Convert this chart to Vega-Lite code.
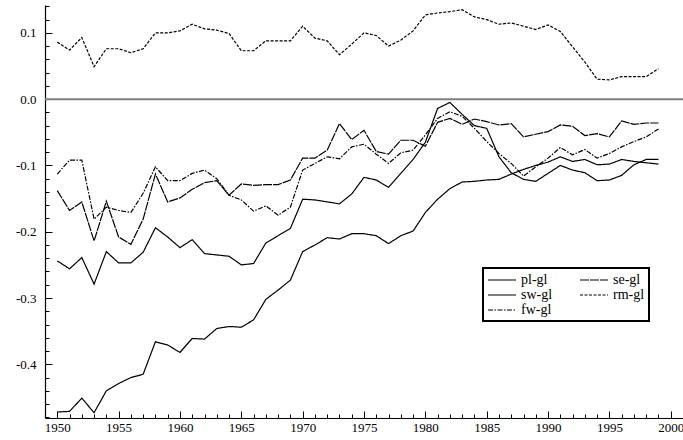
{
"$schema": "https://vega.github.io/schema/vega-lite/v6.json",
"width": 638, "height": 413,
"autosize": "none",
"padding": {"left": 45, "top": 5, "right": 0, "bottom": 22},
"config": {"view": {"stroke": null}, "font": "Liberation Serif"},
"datasets": {
"zero": [{"v": 0}],
"series": [
{"year":1950,"s":"pl-gl","v":-0.472},{"year":1951,"s":"pl-gl","v":-0.471},{"year":1952,"s":"pl-gl","v":-0.451},{"year":1953,"s":"pl-gl","v":-0.473},{"year":1954,"s":"pl-gl","v":-0.440},{"year":1955,"s":"pl-gl","v":-0.429},{"year":1956,"s":"pl-gl","v":-0.420},{"year":1957,"s":"pl-gl","v":-0.415},{"year":1958,"s":"pl-gl","v":-0.366},{"year":1959,"s":"pl-gl","v":-0.371},
{"year":1960,"s":"pl-gl","v":-0.382},{"year":1961,"s":"pl-gl","v":-0.361},{"year":1962,"s":"pl-gl","v":-0.362},{"year":1963,"s":"pl-gl","v":-0.346},{"year":1964,"s":"pl-gl","v":-0.343},{"year":1965,"s":"pl-gl","v":-0.344},{"year":1966,"s":"pl-gl","v":-0.333},{"year":1967,"s":"pl-gl","v":-0.302},{"year":1968,"s":"pl-gl","v":-0.288},{"year":1969,"s":"pl-gl","v":-0.273},
{"year":1970,"s":"pl-gl","v":-0.230},{"year":1971,"s":"pl-gl","v":-0.220},{"year":1972,"s":"pl-gl","v":-0.209},{"year":1973,"s":"pl-gl","v":-0.211},{"year":1974,"s":"pl-gl","v":-0.203},{"year":1975,"s":"pl-gl","v":-0.203},{"year":1976,"s":"pl-gl","v":-0.206},{"year":1977,"s":"pl-gl","v":-0.218},{"year":1978,"s":"pl-gl","v":-0.206},{"year":1979,"s":"pl-gl","v":-0.199},
{"year":1980,"s":"pl-gl","v":-0.171},{"year":1981,"s":"pl-gl","v":-0.151},{"year":1982,"s":"pl-gl","v":-0.135},{"year":1983,"s":"pl-gl","v":-0.125},{"year":1984,"s":"pl-gl","v":-0.124},{"year":1985,"s":"pl-gl","v":-0.122},{"year":1986,"s":"pl-gl","v":-0.121},{"year":1987,"s":"pl-gl","v":-0.113},{"year":1988,"s":"pl-gl","v":-0.106},{"year":1989,"s":"pl-gl","v":-0.100},
{"year":1990,"s":"pl-gl","v":-0.095},{"year":1991,"s":"pl-gl","v":-0.087},{"year":1992,"s":"pl-gl","v":-0.094},{"year":1993,"s":"pl-gl","v":-0.091},{"year":1994,"s":"pl-gl","v":-0.099},{"year":1995,"s":"pl-gl","v":-0.098},{"year":1996,"s":"pl-gl","v":-0.091},{"year":1997,"s":"pl-gl","v":-0.094},{"year":1998,"s":"pl-gl","v":-0.096},{"year":1999,"s":"pl-gl","v":-0.098},

{"year":1950,"s":"se-gl","v":-0.138},{"year":1951,"s":"se-gl","v":-0.168},{"year":1952,"s":"se-gl","v":-0.155},{"year":1953,"s":"se-gl","v":-0.214},{"year":1954,"s":"se-gl","v":-0.154},{"year":1955,"s":"se-gl","v":-0.208},{"year":1956,"s":"se-gl","v":-0.219},{"year":1957,"s":"se-gl","v":-0.181},{"year":1958,"s":"se-gl","v":-0.113},{"year":1959,"s":"se-gl","v":-0.155},
{"year":1960,"s":"se-gl","v":-0.149},{"year":1961,"s":"se-gl","v":-0.136},{"year":1962,"s":"se-gl","v":-0.126},{"year":1963,"s":"se-gl","v":-0.123},{"year":1964,"s":"se-gl","v":-0.145},{"year":1965,"s":"se-gl","v":-0.128},{"year":1966,"s":"se-gl","v":-0.130},{"year":1967,"s":"se-gl","v":-0.129},{"year":1968,"s":"se-gl","v":-0.129},{"year":1969,"s":"se-gl","v":-0.122},
{"year":1970,"s":"se-gl","v":-0.089},{"year":1971,"s":"se-gl","v":-0.089},{"year":1972,"s":"se-gl","v":-0.077},{"year":1973,"s":"se-gl","v":-0.037},{"year":1974,"s":"se-gl","v":-0.061},{"year":1975,"s":"se-gl","v":-0.047},{"year":1976,"s":"se-gl","v":-0.079},{"year":1977,"s":"se-gl","v":-0.083},{"year":1978,"s":"se-gl","v":-0.062},{"year":1979,"s":"se-gl","v":-0.062},
{"year":1980,"s":"se-gl","v":-0.071},{"year":1981,"s":"se-gl","v":-0.035},{"year":1982,"s":"se-gl","v":-0.029},{"year":1983,"s":"se-gl","v":-0.038},{"year":1984,"s":"se-gl","v":-0.030},{"year":1985,"s":"se-gl","v":-0.034},{"year":1986,"s":"se-gl","v":-0.039},{"year":1987,"s":"se-gl","v":-0.037},{"year":1988,"s":"se-gl","v":-0.057},{"year":1989,"s":"se-gl","v":-0.053},
{"year":1990,"s":"se-gl","v":-0.049},{"year":1991,"s":"se-gl","v":-0.039},{"year":1992,"s":"se-gl","v":-0.041},{"year":1993,"s":"se-gl","v":-0.055},{"year":1994,"s":"se-gl","v":-0.052},{"year":1995,"s":"se-gl","v":-0.057},{"year":1996,"s":"se-gl","v":-0.033},{"year":1997,"s":"se-gl","v":-0.038},{"year":1998,"s":"se-gl","v":-0.036},{"year":1999,"s":"se-gl","v":-0.036},

{"year":1950,"s":"sw-gl","v":-0.244},{"year":1951,"s":"sw-gl","v":-0.256},{"year":1952,"s":"sw-gl","v":-0.239},{"year":1953,"s":"sw-gl","v":-0.279},{"year":1954,"s":"sw-gl","v":-0.230},{"year":1955,"s":"sw-gl","v":-0.247},{"year":1956,"s":"sw-gl","v":-0.247},{"year":1957,"s":"sw-gl","v":-0.231},{"year":1958,"s":"sw-gl","v":-0.194},{"year":1959,"s":"sw-gl","v":-0.208},
{"year":1960,"s":"sw-gl","v":-0.224},{"year":1961,"s":"sw-gl","v":-0.212},{"year":1962,"s":"sw-gl","v":-0.233},{"year":1963,"s":"sw-gl","v":-0.235},{"year":1964,"s":"sw-gl","v":-0.237},{"year":1965,"s":"sw-gl","v":-0.250},{"year":1966,"s":"sw-gl","v":-0.248},{"year":1967,"s":"sw-gl","v":-0.217},{"year":1968,"s":"sw-gl","v":-0.206},{"year":1969,"s":"sw-gl","v":-0.195},
{"year":1970,"s":"sw-gl","v":-0.151},{"year":1971,"s":"sw-gl","v":-0.152},{"year":1972,"s":"sw-gl","v":-0.155},{"year":1973,"s":"sw-gl","v":-0.158},{"year":1974,"s":"sw-gl","v":-0.143},{"year":1975,"s":"sw-gl","v":-0.118},{"year":1976,"s":"sw-gl","v":-0.122},{"year":1977,"s":"sw-gl","v":-0.133},{"year":1978,"s":"sw-gl","v":-0.112},{"year":1979,"s":"sw-gl","v":-0.091},
{"year":1980,"s":"sw-gl","v":-0.065},{"year":1981,"s":"sw-gl","v":-0.014},{"year":1982,"s":"sw-gl","v":-0.005},{"year":1983,"s":"sw-gl","v":-0.023},{"year":1984,"s":"sw-gl","v":-0.040},{"year":1985,"s":"sw-gl","v":-0.044},{"year":1986,"s":"sw-gl","v":-0.087},{"year":1987,"s":"sw-gl","v":-0.111},{"year":1988,"s":"sw-gl","v":-0.121},{"year":1989,"s":"sw-gl","v":-0.124},
{"year":1990,"s":"sw-gl","v":-0.112},{"year":1991,"s":"sw-gl","v":-0.100},{"year":1992,"s":"sw-gl","v":-0.107},{"year":1993,"s":"sw-gl","v":-0.111},{"year":1994,"s":"sw-gl","v":-0.123},{"year":1995,"s":"sw-gl","v":-0.122},{"year":1996,"s":"sw-gl","v":-0.115},{"year":1997,"s":"sw-gl","v":-0.099},{"year":1998,"s":"sw-gl","v":-0.091},{"year":1999,"s":"sw-gl","v":-0.091},

{"year":1950,"s":"rm-gl","v":0.086},{"year":1951,"s":"rm-gl","v":0.074},{"year":1952,"s":"rm-gl","v":0.093},{"year":1953,"s":"rm-gl","v":0.049},{"year":1954,"s":"rm-gl","v":0.076},{"year":1955,"s":"rm-gl","v":0.076},{"year":1956,"s":"rm-gl","v":0.070},{"year":1957,"s":"rm-gl","v":0.076},{"year":1958,"s":"rm-gl","v":0.100},{"year":1959,"s":"rm-gl","v":0.100},
{"year":1960,"s":"rm-gl","v":0.103},{"year":1961,"s":"rm-gl","v":0.113},{"year":1962,"s":"rm-gl","v":0.106},{"year":1963,"s":"rm-gl","v":0.104},{"year":1964,"s":"rm-gl","v":0.099},{"year":1965,"s":"rm-gl","v":0.073},{"year":1966,"s":"rm-gl","v":0.073},{"year":1967,"s":"rm-gl","v":0.088},{"year":1968,"s":"rm-gl","v":0.088},{"year":1969,"s":"rm-gl","v":0.088},
{"year":1970,"s":"rm-gl","v":0.110},{"year":1971,"s":"rm-gl","v":0.092},{"year":1972,"s":"rm-gl","v":0.088},{"year":1973,"s":"rm-gl","v":0.067},{"year":1974,"s":"rm-gl","v":0.083},{"year":1975,"s":"rm-gl","v":0.100},{"year":1976,"s":"rm-gl","v":0.096},{"year":1977,"s":"rm-gl","v":0.080},{"year":1978,"s":"rm-gl","v":0.089},{"year":1979,"s":"rm-gl","v":0.103},
{"year":1980,"s":"rm-gl","v":0.127},{"year":1981,"s":"rm-gl","v":0.130},{"year":1982,"s":"rm-gl","v":0.132},{"year":1983,"s":"rm-gl","v":0.135},{"year":1984,"s":"rm-gl","v":0.124},{"year":1985,"s":"rm-gl","v":0.120},{"year":1986,"s":"rm-gl","v":0.113},{"year":1987,"s":"rm-gl","v":0.115},{"year":1988,"s":"rm-gl","v":0.110},{"year":1989,"s":"rm-gl","v":0.105},
{"year":1990,"s":"rm-gl","v":0.112},{"year":1991,"s":"rm-gl","v":0.102},{"year":1992,"s":"rm-gl","v":0.079},{"year":1993,"s":"rm-gl","v":0.056},{"year":1994,"s":"rm-gl","v":0.030},{"year":1995,"s":"rm-gl","v":0.029},{"year":1996,"s":"rm-gl","v":0.034},{"year":1997,"s":"rm-gl","v":0.034},{"year":1998,"s":"rm-gl","v":0.034},{"year":1999,"s":"rm-gl","v":0.046},

{"year":1950,"s":"fw-gl","v":-0.113},{"year":1951,"s":"fw-gl","v":-0.092},{"year":1952,"s":"fw-gl","v":-0.092},{"year":1953,"s":"fw-gl","v":-0.181},{"year":1954,"s":"fw-gl","v":-0.163},{"year":1955,"s":"fw-gl","v":-0.168},{"year":1956,"s":"fw-gl","v":-0.171},{"year":1957,"s":"fw-gl","v":-0.142},{"year":1958,"s":"fw-gl","v":-0.102},{"year":1959,"s":"fw-gl","v":-0.123},
{"year":1960,"s":"fw-gl","v":-0.123},{"year":1961,"s":"fw-gl","v":-0.112},{"year":1962,"s":"fw-gl","v":-0.107},{"year":1963,"s":"fw-gl","v":-0.120},{"year":1964,"s":"fw-gl","v":-0.145},{"year":1965,"s":"fw-gl","v":-0.152},{"year":1966,"s":"fw-gl","v":-0.169},{"year":1967,"s":"fw-gl","v":-0.161},{"year":1968,"s":"fw-gl","v":-0.175},{"year":1969,"s":"fw-gl","v":-0.163},
{"year":1970,"s":"fw-gl","v":-0.107},{"year":1971,"s":"fw-gl","v":-0.097},{"year":1972,"s":"fw-gl","v":-0.087},{"year":1973,"s":"fw-gl","v":-0.090},{"year":1974,"s":"fw-gl","v":-0.072},{"year":1975,"s":"fw-gl","v":-0.068},{"year":1976,"s":"fw-gl","v":-0.083},{"year":1977,"s":"fw-gl","v":-0.097},{"year":1978,"s":"fw-gl","v":-0.081},{"year":1979,"s":"fw-gl","v":-0.077},
{"year":1980,"s":"fw-gl","v":-0.054},{"year":1981,"s":"fw-gl","v":-0.029},{"year":1982,"s":"fw-gl","v":-0.019},{"year":1983,"s":"fw-gl","v":-0.026},{"year":1984,"s":"fw-gl","v":-0.044},{"year":1985,"s":"fw-gl","v":-0.064},{"year":1986,"s":"fw-gl","v":-0.082},{"year":1987,"s":"fw-gl","v":-0.097},{"year":1988,"s":"fw-gl","v":-0.116},{"year":1989,"s":"fw-gl","v":-0.102},
{"year":1990,"s":"fw-gl","v":-0.089},{"year":1991,"s":"fw-gl","v":-0.073},{"year":1992,"s":"fw-gl","v":-0.084},{"year":1993,"s":"fw-gl","v":-0.076},{"year":1994,"s":"fw-gl","v":-0.089},{"year":1995,"s":"fw-gl","v":-0.082},{"year":1996,"s":"fw-gl","v":-0.072},{"year":1997,"s":"fw-gl","v":-0.064},{"year":1998,"s":"fw-gl","v":-0.057},{"year":1999,"s":"fw-gl","v":-0.045}
]
},
"layer": [
{
"data": {"name": "series"},
"mark": {"type": "line", "color": "black", "strokeWidth": 1.2},
"encoding": {
"x": {"field": "year", "type": "quantitative",
"scale": {"domain": [1949, 2001], "nice": false, "zero": false},
"axis": {"title": null, "grid": false,
"values": [1950,1951,1952,1953,1954,1955,1956,1957,1958,1959,1960,1961,1962,1963,1964,1965,1966,1967,1968,1969,1970,1971,1972,1973,1974,1975,1976,1977,1978,1979,1980,1981,1982,1983,1984,1985,1986,1987,1988,1989,1990,1991,1992,1993,1994,1995,1996,1997,1998,1999,2000],
"labelExpr": "datum.value % 5 == 0 ? format(datum.value, 'd') : ''",
"tickSize": {"condition": {"test": "datum.value % 5 == 0", "value": -7}, "value": -4},
"labelOverlap": false, "labelFlush": false, "labelPadding": 10,
"domainColor": "black", "domainWidth": 1.2, "tickColor": "black", "tickWidth": 1,
"labelColor": "black", "labelFont": "Liberation Serif", "labelFontSize": 13}},
"y": {"field": "v", "type": "quantitative",
"scale": {"domain": [-0.481, 0.142], "nice": false, "zero": false},
"axis": {"title": null, "grid": false,
"values": [-0.48,-0.46,-0.44,-0.42,-0.4,-0.38,-0.36,-0.34,-0.32,-0.3,-0.28,-0.26,-0.24,-0.22,-0.2,-0.18,-0.16,-0.14,-0.12,-0.1,-0.08,-0.06,-0.04,-0.02,0,0.02,0.04,0.06,0.08,0.1,0.12,0.14],
"labelExpr": "abs(datum.value*10 - round(datum.value*10)) < 0.001 ? (datum.value < -0.001 ? '-' : '') + format(abs(datum.value), '.1f') : ''",
"tickSize": {"condition": {"test": "abs(datum.value*10 - round(datum.value*10)) < 0.001", "value": -7}, "value": -4},
"labelOverlap": false, "labelFlush": false, "labelPadding": 16,
"domainColor": "black", "domainWidth": 1.2, "tickColor": "black", "tickWidth": 1,
"labelColor": "black", "labelFont": "Liberation Serif", "labelFontSize": 13}},
"strokeDash": {"field": "s", "type": "nominal",
"scale": {"domain": ["pl-gl", "se-gl", "sw-gl", "rm-gl", "fw-gl"], "range": [[1, 0], [9, 1], [1, 0], [3, 1.5], [5, 1.5, 1.5, 1.5]]},
"legend": {"title": null, "orient": "none", "legendX": 438, "legendY": 263, "columns": 2, "direction": "horizontal",
"symbolType": "M-2,0H2", "symbolSize": 196, "symbolOffset": 7, "symbolStrokeColor": "black", "symbolStrokeWidth": 1.2,
"labelFont": "Liberation Serif", "labelFontSize": 14, "labelColor": "black", "labelOffset": 11,
"strokeColor": "black", "fillColor": "white", "padding": 4, "rowPadding": 0, "columnPadding": 24,
"encode": {"legend": {"update": {"strokeWidth": {"value": 2}}}}}}
}
},
{
"data": {"name": "zero"},
"mark": {"type": "rule", "color": "#7f7f7f", "strokeWidth": 2},
"encoding": {
"y": {"field": "v", "type": "quantitative",
"axis": {"title": null, "grid": false,
"values": [-0.48,-0.46,-0.44,-0.42,-0.4,-0.38,-0.36,-0.34,-0.32,-0.3,-0.28,-0.26,-0.24,-0.22,-0.2,-0.18,-0.16,-0.14,-0.12,-0.1,-0.08,-0.06,-0.04,-0.02,0,0.02,0.04,0.06,0.08,0.1,0.12,0.14],
"labelExpr": "abs(datum.value*10 - round(datum.value*10)) < 0.001 ? (datum.value < -0.001 ? '-' : '') + format(abs(datum.value), '.1f') : ''",
"tickSize": {"condition": {"test": "abs(datum.value*10 - round(datum.value*10)) < 0.001", "value": -7}, "value": -4},
"labelOverlap": false, "labelFlush": false, "labelPadding": 16,
"domainColor": "black", "domainWidth": 1.2, "tickColor": "black", "tickWidth": 1,
"labelColor": "black", "labelFont": "Liberation Serif", "labelFontSize": 13}}
}
}
]
}
